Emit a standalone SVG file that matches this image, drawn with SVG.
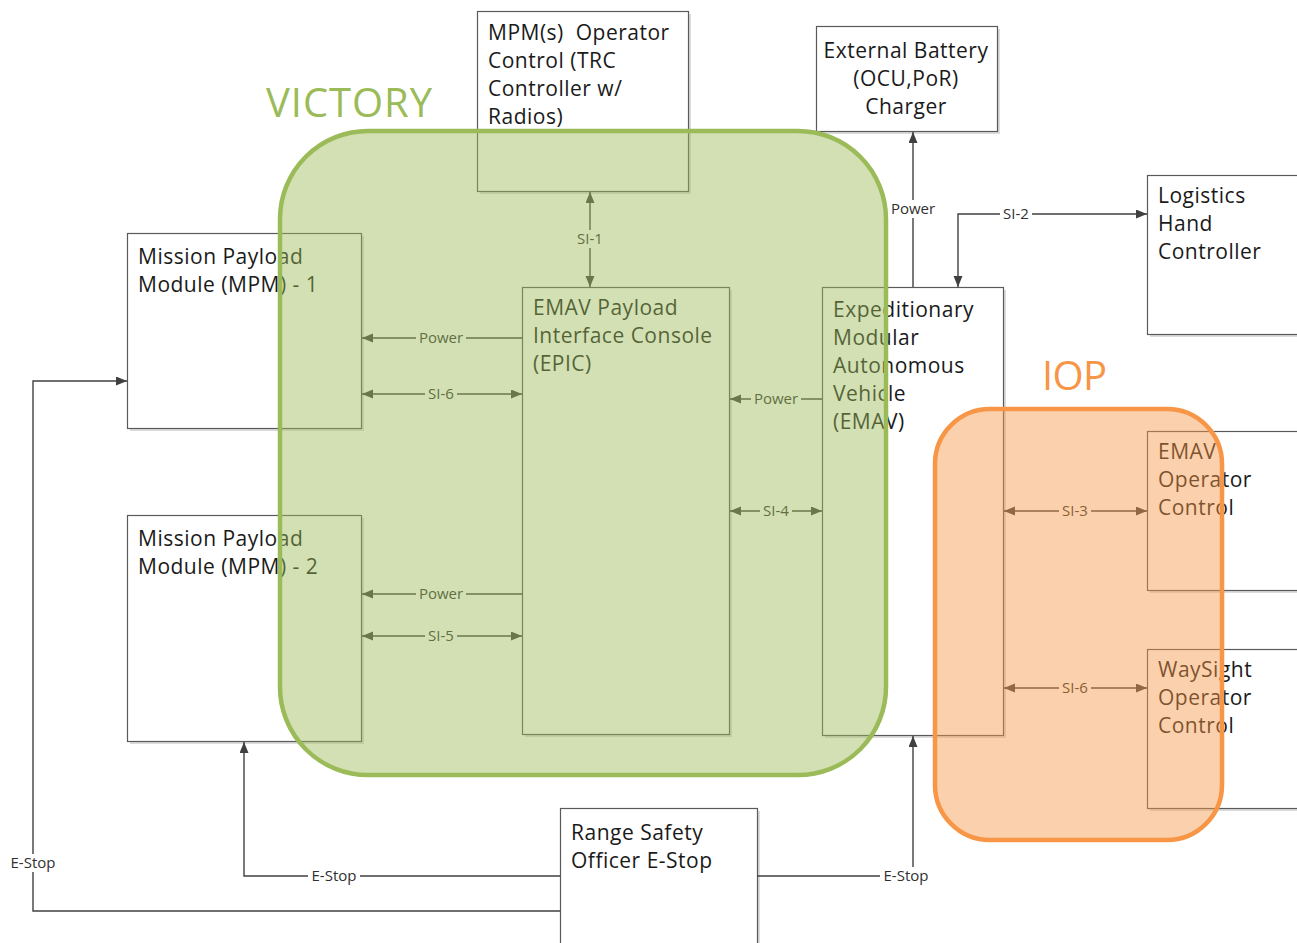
<svg xmlns="http://www.w3.org/2000/svg" width="1297" height="943" viewBox="0 0 1297 943">
<defs>
<style>
.box{fill:#fff;stroke:#5a5a5a;stroke-width:1.2}
.sh{fill:#dcdcdc}
.t{font-family:"Open Sans","Noto Sans",sans-serif;font-size:21px;letter-spacing:0.5px;fill:#1a1a1a}
.tc{text-anchor:middle}
.ln{fill:none;stroke:#404040;stroke-width:1.4}
.lb{font-family:"Open Sans","Noto Sans",sans-serif;font-size:15px;fill:#303030;text-anchor:middle}
.bg{fill:#fff}
.big{font-family:"Open Sans","Noto Sans",sans-serif;font-size:40px}
</style>
<marker id="ah" markerUnits="userSpaceOnUse" markerWidth="12" markerHeight="10" refX="11" refY="4.5" orient="auto-start-reverse">
<path d="M0,0 L11,4.5 L0,9 z" fill="#404040"/>
</marker>
</defs>
<rect width="1297" height="943" fill="#fff"/>

<g id="mpm-operator">
<rect class="sh" x="480" y="14" width="211" height="180"/>
<rect class="box" x="477.5" y="11.5" width="211" height="180"/>
<text class="t" x="488" y="40" xml:space="preserve">MPM(s)  Operator</text>
<text class="t" x="488" y="68">Control (TRC</text>
<text class="t" x="488" y="96">Controller w/</text>
<text class="t" x="488" y="124">Radios)</text>
</g>

<g id="battery">
<rect class="sh" x="819" y="29" width="181" height="105"/>
<rect class="box" x="816.5" y="26.5" width="181" height="105"/>
<text class="t tc" x="906" y="58">External Battery</text>
<text class="t tc" x="906" y="86">(OCU,PoR)</text>
<text class="t tc" x="906" y="114">Charger</text>
</g>

<g id="logistics">
<rect class="sh" x="1150" y="178" width="160" height="159"/>
<rect class="box" x="1147.5" y="175.5" width="160" height="159"/>
<text class="t" x="1158" y="203">Logistics</text>
<text class="t" x="1158" y="231">Hand</text>
<text class="t" x="1158" y="259">Controller</text>
</g>

<g id="mpm1">
<rect class="sh" x="130" y="236" width="234" height="195"/>
<rect class="box" x="127.5" y="233.5" width="234" height="195"/>
<text class="t" x="138" y="264">Mission Payload</text>
<text class="t" x="138" y="292">Module (MPM) - 1</text>
</g>

<g id="mpm2">
<rect class="sh" x="130" y="518" width="234" height="226"/>
<rect class="box" x="127.5" y="515.5" width="234" height="226"/>
<text class="t" x="138" y="546">Mission Payload</text>
<text class="t" x="138" y="574">Module (MPM) - 2</text>
</g>

<g id="epic">
<rect class="sh" x="525" y="290" width="207" height="447"/>
<rect class="box" x="522.5" y="287.5" width="207" height="447"/>
<text class="t" x="533" y="315">EMAV Payload</text>
<text class="t" x="533" y="343">Interface Console</text>
<text class="t" x="533" y="371">(EPIC)</text>
</g>

<g id="emav">
<rect class="sh" x="825" y="290" width="181" height="448"/>
<rect class="box" x="822.5" y="287.5" width="181" height="448"/>
<text class="t" x="833" y="317">Expeditionary</text>
<text class="t" x="833" y="345">Modular</text>
<text class="t" x="833" y="373">Autonomous</text>
<text class="t" x="833" y="401">Vehicle</text>
<text class="t" x="833" y="429">(EMAV)</text>
</g>

<g id="emav-operator">
<rect class="sh" x="1150" y="434" width="160" height="159"/>
<rect class="box" x="1147.5" y="431.5" width="160" height="159"/>
<text class="t" x="1158" y="459">EMAV</text>
<text class="t" x="1158" y="487">Operator</text>
<text class="t" x="1158" y="515">Control</text>
</g>

<g id="waysight">
<rect class="sh" x="1150" y="652" width="160" height="159"/>
<rect class="box" x="1147.5" y="649.5" width="160" height="159"/>
<text class="t" x="1158" y="677">WaySight</text>
<text class="t" x="1158" y="705">Operator</text>
<text class="t" x="1158" y="733">Control</text>
</g>

<g id="rso">
<rect class="sh" x="563" y="811" width="197" height="140"/>
<rect class="box" x="560.5" y="808.5" width="197" height="140"/>
<text class="t" x="571" y="840">Range Safety</text>
<text class="t" x="571" y="868">Officer E-Stop</text>
</g>

<g id="connectors">
<path class="ln" d="M590,192 L590,287" marker-start="url(#ah)" marker-end="url(#ah)"/>
<rect class="bg" x="574" y="230" width="32" height="18"/><text class="lb" x="590" y="244">SI-1</text>

<path class="ln" d="M522,338 L362,338" marker-end="url(#ah)"/>
<rect class="bg" x="416" y="329" width="50" height="18"/><text class="lb" x="441" y="343">Power</text>

<path class="ln" d="M362,394 L522,394" marker-start="url(#ah)" marker-end="url(#ah)"/>
<rect class="bg" x="425" y="385" width="32" height="18"/><text class="lb" x="441" y="399">SI-6</text>

<path class="ln" d="M822,399 L730,399" marker-end="url(#ah)"/>
<rect class="bg" x="751" y="390" width="50" height="18"/><text class="lb" x="776" y="404">Power</text>

<path class="ln" d="M730,511 L822,511" marker-start="url(#ah)" marker-end="url(#ah)"/>
<rect class="bg" x="760" y="502" width="32" height="18"/><text class="lb" x="776" y="516">SI-4</text>

<path class="ln" d="M522,594 L362,594" marker-end="url(#ah)"/>
<rect class="bg" x="416" y="585" width="50" height="18"/><text class="lb" x="441" y="599">Power</text>

<path class="ln" d="M362,636 L522,636" marker-start="url(#ah)" marker-end="url(#ah)"/>
<rect class="bg" x="425" y="627" width="32" height="18"/><text class="lb" x="441" y="641">SI-5</text>

<path class="ln" d="M913,287 L913,132" marker-end="url(#ah)"/>
<rect class="bg" x="888" y="200" width="50" height="18"/><text class="lb" x="913" y="214">Power</text>

<path class="ln" d="M1147,214 L958,214 L958,287" marker-start="url(#ah)" marker-end="url(#ah)"/>
<rect class="bg" x="1000" y="205" width="32" height="18"/><text class="lb" x="1016" y="219">SI-2</text>

<path class="ln" d="M1004,511 L1147,511" marker-start="url(#ah)" marker-end="url(#ah)"/>
<rect class="bg" x="1059" y="502" width="32" height="18"/><text class="lb" x="1075" y="516">SI-3</text>

<path class="ln" d="M1004,688 L1147,688" marker-start="url(#ah)" marker-end="url(#ah)"/>
<rect class="bg" x="1059" y="679" width="32" height="18"/><text class="lb" x="1075" y="693">SI-6</text>

<path class="ln" d="M560,876 L244,876 L244,742" marker-end="url(#ah)"/>
<rect class="bg" x="308" y="867" width="52" height="18"/><text class="lb" x="334" y="881">E-Stop</text>

<path class="ln" d="M757,876 L913,876 L913,736" marker-end="url(#ah)"/>
<rect class="bg" x="880" y="867" width="52" height="18"/><text class="lb" x="906" y="881">E-Stop</text>

<path class="ln" d="M560,911 L33,911 L33,381 L127,381" marker-end="url(#ah)"/>
<rect class="bg" x="7" y="854" width="52" height="18"/><text class="lb" x="33" y="868">E-Stop</text>
</g>

<g id="victory">
<rect x="280" y="131" width="606" height="644" rx="88" ry="88" fill="#9bbb59" fill-opacity="0.45" stroke="#9bbb59" stroke-width="4.5"/>
<text class="big" x="266" y="117" fill="#9bbb59" textLength="166">VICTORY</text>
</g>

<g id="iop">
<rect x="935" y="409" width="287" height="431" rx="55" ry="55" fill="#f79646" fill-opacity="0.45" stroke="#f79646" stroke-width="4.5"/>
<text class="big" x="1042" y="390" fill="#f79646" textLength="65">IOP</text>
</g>
</svg>
